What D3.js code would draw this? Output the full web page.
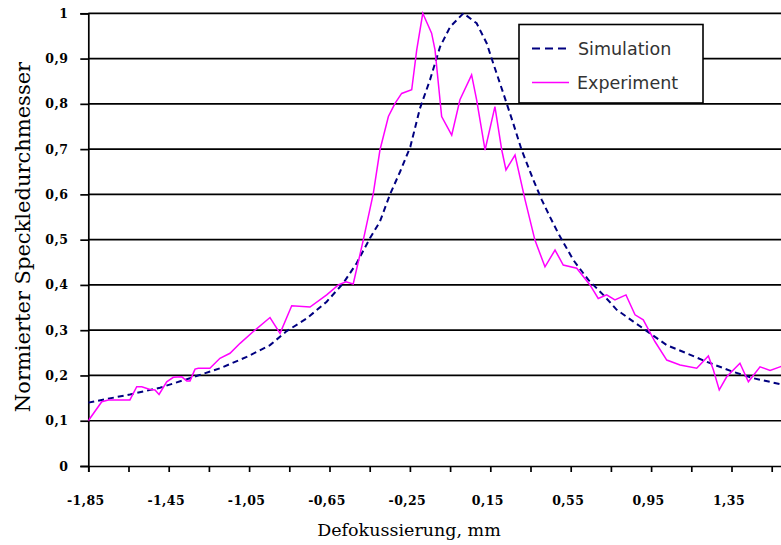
<!DOCTYPE html>
<html>
<head>
<meta charset="utf-8">
<script src="https://cdn.jsdelivr.net/npm/d3@7"></script>
<style>
  html, body { margin: 0; padding: 0; background: #fff; }
  svg { display: block; }
</style>
</head>
<body>
<svg id="chart" width="781" height="545"></svg>
<script>
// ---- Data ----
const simX = [-1.85, -1.643, -1.493, -1.344, -1.194, -1.062, -0.946, -0.863, -0.763, -0.664, -0.581, -0.515, -0.449, -0.399, -0.349, -0.299, -0.248, -0.200, -0.150, -0.100, -0.050, 0.016, 0.082, 0.132, 0.165, 0.215, 0.264, 0.306, 0.364, 0.406, 0.445, 0.488, 0.563, 0.638, 0.712, 0.779, 0.862, 0.945, 1.028, 1.127, 1.227, 1.359, 1.458, 1.6];
const simY = [0.140, 0.158, 0.173, 0.194, 0.216, 0.241, 0.267, 0.298, 0.326, 0.363, 0.404, 0.448, 0.503, 0.540, 0.600, 0.650, 0.705, 0.790, 0.853, 0.926, 0.970, 1.000, 0.978, 0.934, 0.889, 0.823, 0.757, 0.698, 0.632, 0.588, 0.552, 0.514, 0.455, 0.411, 0.378, 0.345, 0.319, 0.293, 0.267, 0.249, 0.230, 0.208, 0.194, 0.180];

const expX = [-1.85, -1.783, -1.750, -1.643, -1.609, -1.584, -1.543, -1.518, -1.498, -1.460, -1.427, -1.385, -1.360, -1.344, -1.319, -1.303, -1.245, -1.195, -1.145, -1.095, -1.029, -0.946, -0.896, -0.838, -0.747, -0.664, -0.606, -0.568, -0.532, -0.482, -0.432, -0.399, -0.357, -0.324, -0.291, -0.241, -0.216, -0.186, -0.142, -0.125, -0.092, -0.042, -0.001, 0.057, 0.082, 0.124, 0.173, 0.207, 0.228, 0.273, 0.323, 0.372, 0.422, 0.472, 0.513, 0.580, 0.646, 0.687, 0.729, 0.770, 0.825, 0.870, 0.911, 0.969, 1.028, 1.094, 1.177, 1.235, 1.260, 1.289, 1.326, 1.392, 1.434, 1.492, 1.542, 1.591, 1.6];
const expY = [0.100, 0.142, 0.146, 0.146, 0.175, 0.175, 0.169, 0.168, 0.158, 0.186, 0.196, 0.197, 0.188, 0.188, 0.214, 0.216, 0.216, 0.238, 0.249, 0.271, 0.297, 0.328, 0.293, 0.354, 0.351, 0.378, 0.400, 0.407, 0.402, 0.499, 0.602, 0.698, 0.772, 0.801, 0.823, 0.831, 0.919, 1.000, 0.956, 0.919, 0.772, 0.731, 0.809, 0.864, 0.809, 0.698, 0.794, 0.698, 0.654, 0.687, 0.588, 0.499, 0.440, 0.477, 0.444, 0.437, 0.400, 0.370, 0.378, 0.367, 0.378, 0.334, 0.323, 0.275, 0.234, 0.223, 0.216, 0.243, 0.212, 0.168, 0.197, 0.227, 0.186, 0.219, 0.211, 0.219, 0.220];

const xTickValues = [-1.85, -1.65, -1.45, -1.25, -1.05, -0.85, -0.65, -0.45, -0.25, -0.05, 0.15, 0.35, 0.55, 0.75, 0.95, 1.15, 1.35, 1.55];
const xTickLabels = ["-1,85", "", "-1,45", "", "-1,05", "", "-0,65", "", "-0,25", "", "0,15", "", "0,55", "", "0,95", "", "1,35", ""];
const yTickValues = [0, 0.1, 0.2, 0.3, 0.4, 0.5, 0.6, 0.7, 0.8, 0.9, 1];
const yTickLabels = ["0", "0,1", "0,2", "0,3", "0,4", "0,5", "0,6", "0,7", "0,8", "0,9", "1"];
const seriesNames = ["Simulation", "Experiment"];

// ---- Layout ----
const svg = d3.select("#chart");
const pLeft = 88.3, pRight = 781.75, pTop = 13.3, pBottom = 466;
const x = d3.scaleLinear().domain([-1.85, 1.6]).range([pLeft, pRight]);
const y = d3.scaleLinear().domain([0, 1]).range([pBottom, pTop]);

const tickFont = "'DejaVu Serif', serif";

// gridlines
svg.append("g").selectAll("line")
  .data(yTickValues.filter(v => v > 0))
  .join("line")
  .attr("x1", pLeft).attr("x2", 781)
  .attr("y1", d => y(d)).attr("y2", d => y(d))
  .attr("stroke", "#000").attr("stroke-width", 1.7);

// y axis
const yAxis = svg.append("g")
  .attr("transform", `translate(${pLeft},0)`)
  .call(d3.axisLeft(y).tickValues(yTickValues).tickSize(8).tickPadding(12)
        .tickFormat((d, i) => yTickLabels[i]));
yAxis.select(".domain").attr("stroke", "#000").attr("stroke-width", 1.7);
yAxis.selectAll(".tick line").attr("stroke", "#000").attr("stroke-width", 1.7);
yAxis.selectAll("text").attr("font-family", tickFont).attr("font-weight", "bold")
  .attr("font-size", "12.5px").attr("letter-spacing", "0.4px").attr("fill", "#000");

// x axis
const xAxis = svg.append("g")
  .attr("transform", `translate(0,${pBottom})`)
  .call(d3.axisBottom(x).tickValues(xTickValues).tickSize(6).tickPadding(24)
        .tickFormat((d, i) => xTickLabels[i]));
xAxis.select(".domain").attr("stroke", "#000").attr("stroke-width", 1.7);
xAxis.selectAll(".tick line").attr("stroke", "#000").attr("stroke-width", 1.7);
xAxis.selectAll("text").attr("font-family", tickFont).attr("font-weight", "bold")
  .attr("font-size", "12.5px").attr("letter-spacing", "0.4px").attr("fill", "#000").attr("dx", "-3");

// lines
svg.append("clipPath").attr("id", "clip")
  .append("rect").attr("x", pLeft).attr("y", 0).attr("width", 781 - pLeft).attr("height", pBottom);

const line = d3.line().x(d => x(d[0])).y(d => y(d[1]));
const simData = simX.map((v, i) => [v, simY[i]]);
const expData = expX.map((v, i) => [v, expY[i]]);

const plot = svg.append("g").attr("clip-path", "url(#clip)");
plot.append("path").datum(simData).attr("d", line)
  .attr("fill", "none").attr("stroke", "#000080").attr("stroke-width", 2)
  .attr("stroke-dasharray", "6,4");
plot.append("path").datum(expData).attr("d", line)
  .attr("fill", "none").attr("stroke", "#FF00FF").attr("stroke-width", 1.5);

// legend
const lg = svg.append("g");
lg.append("rect").attr("x", 519).attr("y", 24.5).attr("width", 184).attr("height", 78.5)
  .attr("fill", "#fff").attr("stroke", "#000").attr("stroke-width", 1.6);
lg.append("line").attr("x1", 532).attr("x2", 569).attr("y1", 48.5).attr("y2", 48.5)
  .attr("stroke", "#000080").attr("stroke-width", 2).attr("stroke-dasharray", "8,5");
lg.append("line").attr("x1", 532).attr("x2", 569).attr("y1", 82.5).attr("y2", 82.5)
  .attr("stroke", "#FF00FF").attr("stroke-width", 1.5);
lg.append("text").attr("x", 578).attr("y", 55).text(seriesNames[0])
  .attr("font-family", "'DejaVu Sans', sans-serif").attr("font-size", "17.5px").attr("fill", "#333");
lg.append("text").attr("x", 577).attr("y", 89).text(seriesNames[1])
  .attr("font-family", "'DejaVu Sans', sans-serif").attr("font-size", "17.5px").attr("fill", "#333");

// axis titles
svg.append("text").attr("x", 409).attr("y", 536).attr("text-anchor", "middle")
  .attr("font-family", tickFont).attr("font-size", "17.5px").attr("fill", "#000")
  .text("Defokussierung, mm");
svg.append("text").attr("transform", "translate(30,237) rotate(-90)").attr("text-anchor", "middle")
  .attr("font-family", tickFont).attr("font-size", "21px").attr("fill", "#000")
  .text("Normierter Speckledurchmesser");
</script>
</body>
</html>
